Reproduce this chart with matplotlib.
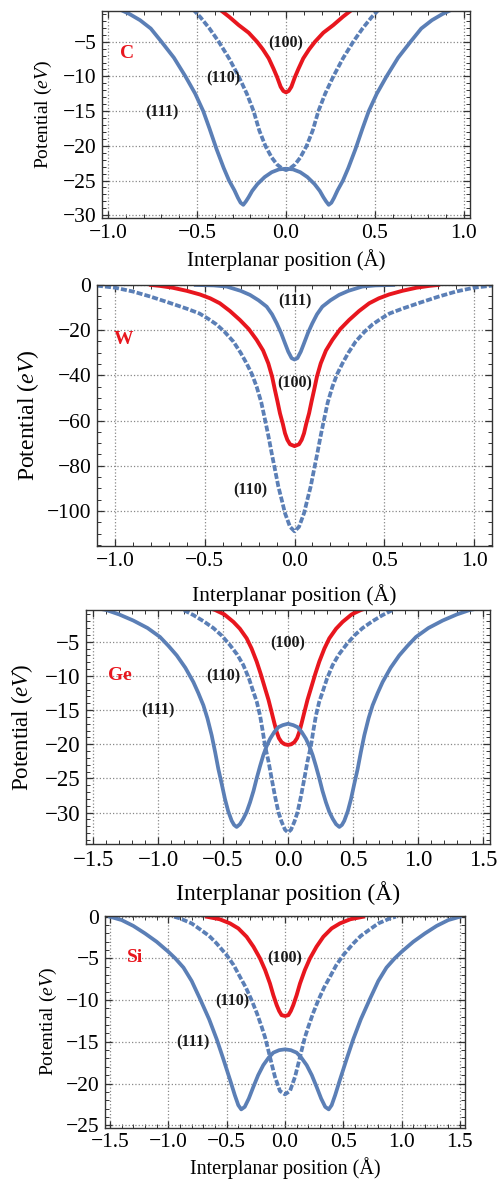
import numpy as np
import matplotlib.pyplot as plt
from matplotlib.ticker import MultipleLocator, FuncFormatter

plt.rcParams['font.family'] = ['Liberation Serif', 'DejaVu Serif']
plt.rcParams['mathtext.fontset'] = 'custom'
plt.rcParams['mathtext.rm'] = 'Liberation Serif'
plt.rcParams['mathtext.it'] = 'Liberation Serif:italic'

RED = '#e8161e'
BLUE = '#5b7fb6'

# half profiles (x >= 0), the potentials are symmetric around x = 0
# --- C ---
c_x100 = [0, 0.015, 0.03, 0.05, 0.07, 0.097, 0.13, 0.163, 0.21, 0.266, 0.32, 0.37, 0.40]
c_y100 = [-12.3, -12.1, -11.5, -10.1, -8.9, -7.4, -6.1, -5.0, -3.7, -2.6, -1.4, -0.4, 0.0]
c_x110 = [0, 0.02, 0.05, 0.08, 0.116, 0.15, 0.182, 0.22, 0.266, 0.32, 0.378, 0.43, 0.48, 0.52, 0.56]
c_y110 = [-23.5, -23.3, -22.7, -21.7, -20.0, -17.8, -15.0, -12.5, -10.0, -7.4, -5.0, -3.1, -1.5, -0.4, 0.3]
c_x111 = [0, 0.04, 0.08, 0.12, 0.16, 0.19, 0.21, 0.225, 0.24, 0.255, 0.27, 0.29, 0.32, 0.35, 0.39,
          0.43, 0.465, 0.51, 0.565, 0.63, 0.70, 0.76, 0.82, 0.88, 0.93, 1.0]
c_y111 = [-23.3, -23.4, -23.8, -24.5, -25.5, -26.5, -27.4, -28.0, -28.5, -28.2, -27.5, -26.4, -25.0, -23.2, -20.5,
          -17.5, -15.0, -12.5, -10.0, -7.3, -5.0, -3.1, -1.9, -1.0, -0.4, 0.0]

# --- W ---
w_x100 = [0, 0.025, 0.04, 0.053, 0.065, 0.081, 0.095, 0.109, 0.125, 0.146, 0.175, 0.211, 0.255, 0.304,
          0.36, 0.416, 0.47, 0.527, 0.60, 0.68, 0.75, 0.80]
w_y100 = [-71.3, -70.5, -68.5, -65.6, -61.5, -56.8, -51.5, -46.5, -40.5, -34.7, -29.0, -24.3, -19.5, -15.5,
          -11.5, -8.1, -5.9, -4.2, -2.6, -1.2, -0.4, 0.0]
w_x110 = [0, 0.025, 0.053, 0.07, 0.09, 0.108, 0.127, 0.145, 0.164, 0.185, 0.211, 0.237, 0.267, 0.30,
          0.341, 0.39, 0.434, 0.48, 0.53, 0.60, 0.70, 0.80, 0.90, 1.00, 1.10]
w_y110 = [-109.0, -107.0, -101.0, -95.5, -89.2, -82.0, -74.5, -67.0, -59.7, -52.0, -45.0, -39.5, -34.7, -30.0,
          -25.0, -20.7, -17.5, -15.0, -12.6, -10.5, -7.8, -5.2, -2.9, -1.2, -0.3]
w_x111 = [0, 0.016, 0.035, 0.053, 0.075, 0.099, 0.125, 0.155, 0.20, 0.248, 0.30, 0.378, 0.45, 0.55]
w_y111 = [-33.0, -32.4, -29.5, -25.8, -21.2, -17.0, -13.0, -9.6, -6.8, -4.4, -2.6, -0.7, -0.2, 0.0]

# --- Ge ---
ge_x100 = [0, 0.025, 0.049, 0.07, 0.087, 0.105, 0.126, 0.15, 0.177, 0.21, 0.241, 0.28, 0.318, 0.37,
           0.42, 0.49, 0.56, 0.62]
ge_y100 = [-20.1, -20.0, -19.7, -19.1, -18.2, -16.9, -15.3, -13.5, -11.8, -9.7, -7.9, -6.0, -4.5, -3.1,
           -2.1, -1.0, -0.36, 0.0]
ge_x110 = [0, 0.023, 0.05, 0.074, 0.10, 0.126, 0.15, 0.177, 0.195, 0.215, 0.24, 0.267, 0.30, 0.344,
           0.39, 0.446, 0.51, 0.574, 0.65, 0.728, 0.80, 0.86]
ge_y110 = [-32.9, -32.5, -31.3, -29.9, -27.6, -25.0, -22.5, -20.2, -18.0, -15.8, -13.8, -12.3, -10.4, -8.4,
           -6.9, -5.5, -4.1, -3.0, -2.0, -1.1, -0.4, 0.0]
ge_x111 = [0, 0.04, 0.074, 0.105, 0.138, 0.165, 0.19, 0.215, 0.241, 0.265, 0.292, 0.318, 0.344, 0.37,
           0.395, 0.415, 0.433, 0.46, 0.485, 0.51, 0.536, 0.56, 0.587, 0.62, 0.651, 0.69, 0.728, 0.79,
           0.856, 0.92, 0.985, 1.08, 1.19, 1.30, 1.40, 1.50]
ge_y111 = [-17.0, -17.2, -17.5, -18.2, -19.2, -20.3, -21.6, -23.2, -25.0, -26.8, -28.5, -29.9, -30.9, -31.7,
           -32.1, -31.8, -31.2, -29.8, -28.0, -25.8, -23.6, -21.2, -18.7, -16.2, -14.3, -12.5, -10.9, -8.8,
           -7.0, -5.6, -4.3, -3.0, -1.9, -1.0, -0.35, 0.0]

# --- Si ---
si_x100 = [0, 0.029, 0.05, 0.071, 0.10, 0.129, 0.17, 0.214, 0.27, 0.329, 0.40, 0.471, 0.56, 0.67]
si_y100 = [-11.9, -11.8, -11.3, -10.6, -9.4, -8.0, -6.4, -5.0, -3.6, -2.4, -1.4, -0.8, -0.3, 0.0]
si_x110 = [0, 0.043, 0.086, 0.115, 0.143, 0.17, 0.20, 0.24, 0.286, 0.335, 0.386, 0.44, 0.50, 0.586,
           0.65, 0.729, 0.80, 0.90, 0.95]
si_y110 = [-21.3, -20.9, -19.2, -17.6, -16.0, -14.5, -13.2, -11.6, -10.0, -8.5, -7.2, -5.8, -4.6, -3.2,
           -2.3, -1.5, -0.8, -0.2, 0.0]
si_x111 = [0, 0.05, 0.10, 0.14, 0.186, 0.23, 0.271, 0.31, 0.345, 0.375, 0.40, 0.43, 0.47, 0.53, 0.585,
           0.65, 0.73, 0.80, 0.87, 0.94, 1.00, 1.10, 1.20, 1.30, 1.40, 1.50]
si_y111 = [-15.9, -16.0, -16.3, -16.9, -17.8, -19.0, -20.4, -21.8, -22.8, -23.1, -22.6, -21.4, -19.6, -17.0, -14.7,
           -12.3, -9.8, -7.7, -6.1, -5.0, -4.2, -3.0, -2.0, -1.1, -0.4, 0.0]


def mirror(xh, yh):
    xh = np.asarray(xh)
    yh = np.asarray(yh)
    return np.concatenate([-xh[::-1], xh[1:]]), np.concatenate([yh[::-1], yh[1:]])


def fmt_x(v, pos):
    if abs(v) < 1e-9:
        v = 0.0
    return ('%.1f' % v).replace('-', '\u2212')


def panel(fig, rect, curves, xlim, ylim, ymaj, ymin, name, name_pos, tags,
          fs_tick, fs_xl, fs_yl, xl_y, yl_x):
    ax = fig.add_axes(rect)
    x, y = mirror(*curves['100'])
    ax.plot(x, y, color=RED, lw=2.8, solid_joinstyle='round')
    x, y = mirror(*curves['110'])
    ax.plot(x, y, color=BLUE, lw=2.7, ls=(0, (1.6, 0.55)))
    x, y = mirror(*curves['111'])
    ax.plot(x, y, color=BLUE, lw=2.7, solid_joinstyle='round')

    ax.set_xlim(*xlim)
    ax.set_ylim(*ylim)
    ax.xaxis.set_major_locator(MultipleLocator(0.5))
    ax.xaxis.set_minor_locator(MultipleLocator(0.1))
    ax.yaxis.set_major_locator(MultipleLocator(ymaj))
    ax.yaxis.set_minor_locator(MultipleLocator(ymin))
    ax.xaxis.set_major_formatter(FuncFormatter(fmt_x))
    ax.tick_params(which='both', direction='in', top=True, right=True, color='#333333',
                   labelsize=fs_tick, pad=4)
    ax.tick_params(which='major', length=5, width=0.9)
    ax.tick_params(which='minor', length=2.8, width=0.7)
    for s in ax.spines.values():
        s.set_color('#333333')
        s.set_linewidth(1.0)
    ax.grid(True, which='major', ls=':', color='#888888', lw=0.9)

    ax.set_xlabel('Interplanar position (Å)', fontsize=fs_xl)
    ax.xaxis.set_label_coords(0.5, xl_y)
    ax.xaxis.label.set_va('center')
    ax.set_ylabel('Potential ($eV$)', fontsize=fs_yl)
    ax.yaxis.set_label_coords(yl_x, 0.5)
    ax.yaxis.label.set_va('center')

    ax.text(name_pos[0], name_pos[1], name, color=RED, fontsize=14, fontweight='bold',
            ha='center', va='center')
    for t, (tx, ty) in tags.items():
        ax.text(tx, ty, '(' + t + ')', color='#1a1a1a', fontsize=11.5, fontweight='bold',
                ha='center', va='center')
    return ax


fig = plt.figure(figsize=(4.98, 11.79), dpi=100)

panel(fig, [0.2048, 0.8151, 0.7390, 0.1756],
      {'100': (c_x100, c_y100), '110': (c_x110, c_y110), '111': (c_x111, c_y111)},
      (-1.034, 1.034), (-30.4, -0.57), 5, 1, 'C', (-0.895, -6.7),
      {'100': (0.0, -5.2), '110': (-0.352, -10.3), '111': (-0.698, -15.2)},
      15.5, 15, 14, -0.203, -0.158)

panel(fig, [0.1948, 0.5369, 0.7932, 0.2214],
      {'100': (w_x100, w_y100), '110': (w_x110, w_y110), '111': (w_x111, w_y111)},
      (-1.1, 1.1), (-115.5, 0), 20, 5, 'W', (-0.95, -24.3),
      {'111': (0.0, -7.4), '100': (0.0, -43.5), '110': (-0.248, -90.7)},
      15.5, 15.5, 17, -0.188, -0.175)

panel(fig, [0.1727, 0.2841, 0.8112, 0.1985],
      {'100': (ge_x100, ge_y100), '110': (ge_x110, ge_y110), '111': (ge_x111, ge_y111)},
      (-1.554, 1.554), (-34.6, -0.36), 5, 1, 'Ge', (-1.29, -9.9),
      {'100': (0.0, -5.2), '110': (-0.50, -10.1), '111': (-1.0, -15.1)},
      16.5, 17, 16.5, -0.209, -0.158)

panel(fig, [0.2108, 0.0435, 0.7229, 0.1798],
      {'100': (si_x100, si_y100), '110': (si_x110, si_y110), '111': (si_x111, si_y111)},
      (-1.543, 1.543), (-25.3, 0.12), 5, 1, 'Si', (-1.285, -4.9),
      {'100': (0.0, -5.05), '110': (-0.448, -10.1), '111': (-0.79, -15.1)},
      15.5, 14.5, 14, -0.19, -0.156)

fig.savefig('out.png', dpi=100)
